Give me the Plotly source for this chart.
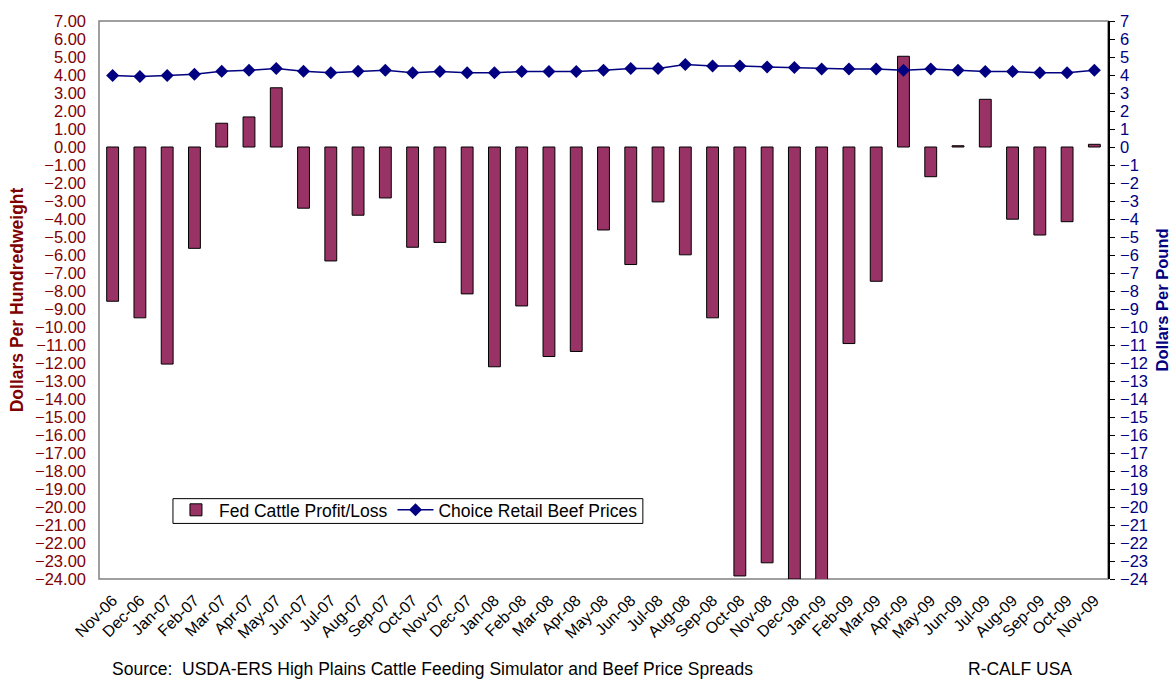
import plotly.graph_objects as go

# Monthly categories, Nov-06 .. Nov-09
months = ["Nov-06", "Dec-06", "Jan-07", "Feb-07", "Mar-07", "Apr-07", "May-07", "Jun-07",
          "Jul-07", "Aug-07", "Sep-07", "Oct-07", "Nov-07", "Dec-07", "Jan-08", "Feb-08",
          "Mar-08", "Apr-08", "May-08", "Jun-08", "Jul-08", "Aug-08", "Sep-08", "Oct-08",
          "Nov-08", "Dec-08", "Jan-09", "Feb-09", "Mar-09", "Apr-09", "May-09", "Jun-09",
          "Jul-09", "Aug-09", "Sep-09", "Oct-09", "Nov-09"]

# Fed cattle profit/loss, dollars per hundredweight
profit_loss = [-8.57, -9.49, -12.06, -5.63, 1.32, 1.67, 3.29, -3.40, -6.33, -3.79, -2.83,
               -5.57, -5.30, -8.16, -12.21, -8.83, -11.64, -11.36, -4.61, -6.53, -3.05,
               -5.99, -9.49, -23.83, -23.10, -24.00, -24.10, -10.92, -7.46, 5.04, -1.65,
               0.07, 2.65, -4.01, -4.89, -4.15, 0.15]

# Choice retail beef prices, dollars per pound
retail_price = [3.97, 3.92, 3.97, 4.04, 4.21, 4.26, 4.36, 4.21, 4.12, 4.21, 4.27, 4.12,
                4.19, 4.12, 4.12, 4.19, 4.19, 4.19, 4.26, 4.36, 4.36, 4.58, 4.50, 4.50,
                4.45, 4.41, 4.34, 4.34, 4.34, 4.26, 4.34, 4.26, 4.19, 4.19, 4.12, 4.12, 4.26]

Y_MIN, Y_MAX = -24, 7
FONT = "Arial, Liberation Sans, sans-serif"
MAROON = "#800000"
NAVY = "#000080"

fig = go.Figure()

fig.add_trace(go.Bar(
    x=months, y=profit_loss, name="Fed Cattle Profit/Loss",
    marker=dict(color="#993366", line=dict(color="black", width=1)),
    yaxis="y",
))

fig.add_trace(go.Scatter(
    x=months, y=retail_price, name="Choice Retail Beef Prices",
    mode="lines+markers",
    line=dict(color=NAVY, width=1.5),
    marker=dict(symbol="diamond", size=10, color=NAVY),
    yaxis="y2",
))

n = len(months)
zero_pos = (0 - Y_MIN) / (Y_MAX - Y_MIN)

# category axis along the zero line, ticks crossing at category boundaries
tick_axis = dict(
    overlaying="x", anchor="free", position=zero_pos,
    range=[-0.5, n - 0.5], tick0=-0.5, dtick=1,
    showticklabels=False, showgrid=False, zeroline=False,
    ticklen=5, tickcolor="black", tickwidth=1,
)

fig.update_layout(
    width=1173, height=681,
    margin=dict(l=99, r=65, t=17, b=102),
    plot_bgcolor="white", paper_bgcolor="white",
    font=dict(family=FONT, color="black"),
    bargap=0.565,
    showlegend=True,
    legend=dict(
        orientation="h", x=0.0733, y=0.156, xanchor="left", yanchor="top",
        bgcolor="rgba(0,0,0,0)", borderwidth=0,
        font=dict(size=17.5, family=FONT, color="black"),
        itemwidth=36, tracegroupgap=0,
    ),
    xaxis=dict(
        type="category", range=[-0.5, n - 0.5],
        tickangle=-45, tickfont=dict(size=16, family=FONT, color="black"),
        showgrid=False, zeroline=False, showline=False, ticks="",
        ticklabelstandoff=8,
    ),
    xaxis2=dict(tick_axis, ticks="outside", showline=True, linecolor="black", linewidth=1),
    xaxis3=dict(tick_axis, ticks="inside", showline=False),
    yaxis=dict(
        range=[Y_MIN, Y_MAX], dtick=1, tick0=0, tickformat=".2f",
        tickfont=dict(size=16.5, family=FONT, color=MAROON),
        showgrid=False, zeroline=False, showline=False, ticks="",
        ticklabelstandoff=12,
    ),
    yaxis2=dict(
        overlaying="y", side="right", anchor="x",
        range=[Y_MIN, Y_MAX], dtick=1, tick0=0,
        tickfont=dict(size=16.5, family=FONT, color=NAVY),
        showgrid=False, zeroline=False,
        showline=True, linecolor="black", linewidth=1.5,
        ticks="outside", ticklen=5, tickcolor="black",
        ticklabelstandoff=2,
    ),
    yaxis3=dict(
        overlaying="y", side="right", anchor="x",
        range=[Y_MIN, Y_MAX], dtick=1, tick0=0,
        showticklabels=False, showgrid=False, zeroline=False, showline=False,
        ticks="inside", ticklen=5, tickcolor="black",
    ),
    shapes=[
        # plot-area frame
        dict(type="rect", xref="paper", yref="paper", x0=0, x1=1, y0=0, y1=1,
             line=dict(color="#808080", width=1.5), layer="below"),
        # legend frame
        dict(type="rect", xref="paper", yref="paper", x0=0.0733, x1=0.539, y0=0.0996, y1=0.144,
             line=dict(color="black", width=1), fillcolor="white", layer="above"),
    ],
    annotations=[
        dict(text="<b>Dollars Per Hundredweight</b>", textangle=-90,
             xref="paper", yref="paper", x=-0.081, y=0.5, xanchor="center", yanchor="middle",
             showarrow=False, font=dict(size=17.5, family=FONT, color=MAROON)),
        dict(text="<b>Dollars Per Pound</b>", textangle=-90,
             xref="paper", yref="paper", x=1.054, y=0.5, xanchor="center", yanchor="middle",
             showarrow=False, font=dict(size=16.5, family=FONT, color=NAVY)),
        dict(text="Source:\u00a0 USDA-ERS High Plains Cattle Feeding Simulator and Beef Price Spreads",
             xref="paper", yref="paper", x=0.0109, y=-0.162, xanchor="left", yanchor="middle",
             showarrow=False, font=dict(size=17.5, family=FONT, color="black")),
        dict(text="R-CALF USA",
             xref="paper", yref="paper", x=0.859, y=-0.162, xanchor="left", yanchor="middle",
             showarrow=False, font=dict(size=17.5, family=FONT, color="black")),
    ],
)

fig.write_html("out.html")
